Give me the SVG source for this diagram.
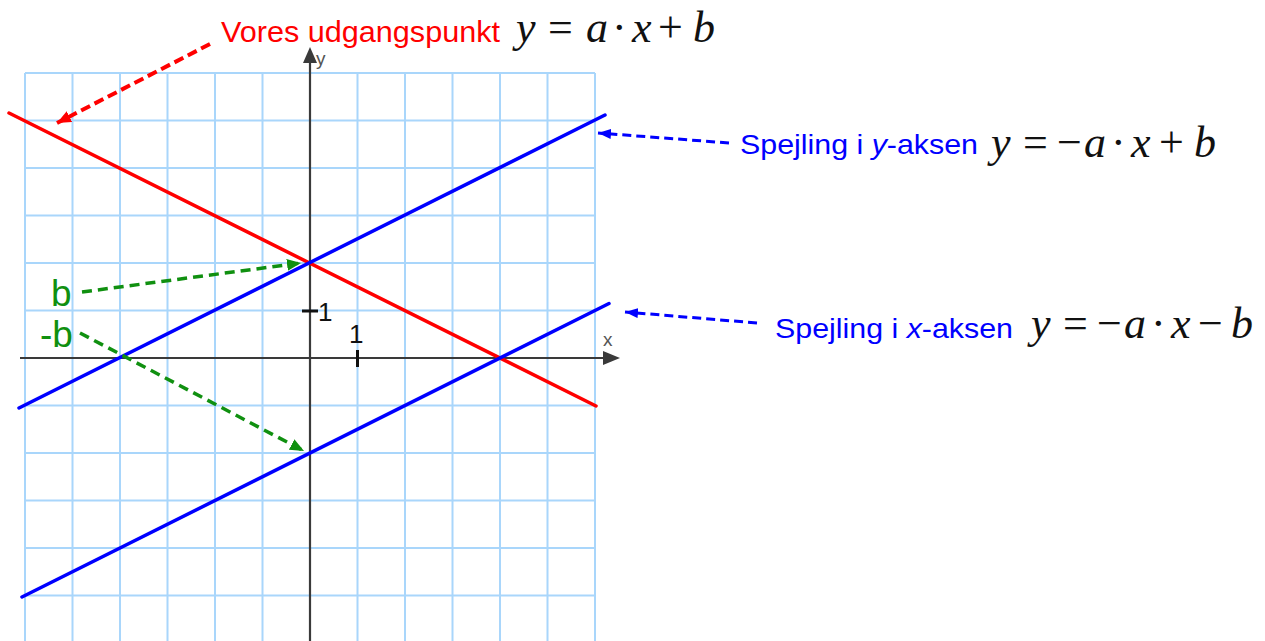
<svg xmlns="http://www.w3.org/2000/svg" width="1265" height="641" viewBox="0 0 1265 641">
<style>
.grid line{stroke:#a9d6fb;stroke-width:2}
.axis{stroke:#3a3a3a;stroke-width:2.2;fill:none}
.tick{stroke:#111;stroke-width:3}
.lab{font-family:"Liberation Sans",Arial,sans-serif}
.math{font-family:"Liberation Serif","Times New Roman",serif;font-size:44px;fill:#111}
.it{font-style:italic}
.red{stroke:#ff0000;stroke-width:3.5;fill:none;stroke-linecap:round}
.blue{stroke:#0000ff;stroke-width:3.5;fill:none;stroke-linecap:round}
.dred{stroke:#ff0000;stroke-width:4;stroke-dasharray:10 5;fill:none}
.dblue{stroke:#0000ff;stroke-width:3;stroke-dasharray:9 5;fill:none}
.dgreen{stroke:#109010;stroke-width:3.5;stroke-dasharray:10 6;fill:none}
</style>
<defs>
<marker id="ahR" markerUnits="userSpaceOnUse" markerWidth="16" markerHeight="12" refX="14" refY="6" orient="auto"><path d="M0,0 L14,6 L0,12 Z" fill="#ff0000"/></marker>
<marker id="ahB" markerUnits="userSpaceOnUse" markerWidth="14" markerHeight="10" refX="13" refY="5" orient="auto"><path d="M0,0 L13,5 L0,10 Z" fill="#0000ff"/></marker>
<marker id="ahG" markerUnits="userSpaceOnUse" markerWidth="16" markerHeight="12" refX="14" refY="6" orient="auto"><path d="M0,0 L14,6 L0,12 Z" fill="#109010"/></marker>
</defs>
<rect width="1265" height="641" fill="#ffffff"/>
<g id="grid" class="grid">
<line x1="25" y1="73" x2="25" y2="641"/>
<line x1="72.5" y1="73" x2="72.5" y2="641"/>
<line x1="120" y1="73" x2="120" y2="641"/>
<line x1="167.5" y1="73" x2="167.5" y2="641"/>
<line x1="215" y1="73" x2="215" y2="641"/>
<line x1="262.5" y1="73" x2="262.5" y2="641"/>
<line x1="357.5" y1="73" x2="357.5" y2="641"/>
<line x1="405" y1="73" x2="405" y2="641"/>
<line x1="452.5" y1="73" x2="452.5" y2="641"/>
<line x1="500" y1="73" x2="500" y2="641"/>
<line x1="547.5" y1="73" x2="547.5" y2="641"/>
<line x1="595" y1="73" x2="595" y2="641"/>
<line x1="25" y1="73" x2="595" y2="73"/>
<line x1="25" y1="120.5" x2="595" y2="120.5"/>
<line x1="25" y1="168" x2="595" y2="168"/>
<line x1="25" y1="215.5" x2="595" y2="215.5"/>
<line x1="25" y1="263" x2="595" y2="263"/>
<line x1="25" y1="310.5" x2="595" y2="310.5"/>
<line x1="25" y1="405.5" x2="595" y2="405.5"/>
<line x1="25" y1="453" x2="595" y2="453"/>
<line x1="25" y1="500.5" x2="595" y2="500.5"/>
<line x1="25" y1="548" x2="595" y2="548"/>
<line x1="25" y1="595.5" x2="595" y2="595.5"/>
</g>
<g id="axes">
<line class="axis" x1="20" y1="358" x2="606" y2="358"/>
<path d="M620,358 L603,351 L603,365 Z" fill="#3a3a3a"/>
<line class="axis" x1="310" y1="641" x2="310" y2="62"/>
<path d="M310,47 L303,63 L317,63 Z" fill="#3a3a3a"/>
<text class="lab" x="316" y="65" font-size="19" fill="#555">y</text>
<text class="lab" x="603" y="346" font-size="19" fill="#555">x</text>
<line class="tick" x1="302" y1="311" x2="318" y2="311"/>
<line class="tick" x1="357.5" y1="350" x2="357.5" y2="367"/>
<text class="lab" x="318" y="321" font-size="26" fill="#111">1</text>
<text class="lab" x="349" y="343" font-size="26" fill="#111">1</text>
</g>
<g id="lines">
<line id="red-line" class="red" x1="9" y1="113" x2="596" y2="406"/>
<line id="blue-line-1" class="blue" x1="19" y1="408" x2="605" y2="115"/>
<line id="blue-line-2" class="blue" x1="22" y1="597" x2="609" y2="303.5"/>
</g>
<g id="connectors">
<line class="dred" x1="210" y1="44" x2="57" y2="123" marker-end="url(#ahR)"/>
<line class="dblue" x1="729" y1="143" x2="598" y2="133" marker-end="url(#ahB)"/>
<line class="dblue" x1="757" y1="323" x2="625" y2="312" marker-end="url(#ahB)"/>
<line class="dgreen" x1="82" y1="292" x2="301" y2="263" marker-end="url(#ahG)"/>
<line class="dgreen" x1="80" y1="333" x2="304" y2="451" marker-end="url(#ahG)"/>
</g>
<g id="label-origin">
<text class="lab" x="221" y="42" font-size="30" fill="#ff0000" textLength="279" lengthAdjust="spacingAndGlyphs">Vores udgangspunkt</text>
<g class="math">
<text x="516" y="42" class="it">y</text>
<text x="548" y="42">=</text>
<text x="586" y="42" class="it">a</text>
<text x="612" y="42">·</text>
<text x="632" y="42" class="it">x</text>
<text x="658" y="42">+</text>
<text x="693" y="42" class="it">b</text>
</g>
</g>
<g id="label-yaxis">
<text class="lab" x="740" y="154" font-size="28" fill="#0000ff" textLength="238" lengthAdjust="spacingAndGlyphs">Spejling i <tspan font-style="italic">y</tspan>-aksen</text>
<g class="math">
<text x="991" y="157" class="it">y</text>
<text x="1023" y="157">=</text>
<text x="1057" y="157">−</text>
<text x="1084" y="157" class="it">a</text>
<text x="1111" y="157">·</text>
<text x="1131" y="157" class="it">x</text>
<text x="1159" y="157">+</text>
<text x="1194" y="157" class="it">b</text>
</g>
</g>
<g id="label-xaxis">
<text class="lab" x="775" y="338" font-size="28" fill="#0000ff" textLength="238" lengthAdjust="spacingAndGlyphs">Spejling i <tspan font-style="italic">x</tspan>-aksen</text>
<g class="math">
<text x="1031" y="338" class="it">y</text>
<text x="1063" y="338">=</text>
<text x="1097" y="338">−</text>
<text x="1124" y="338" class="it">a</text>
<text x="1151" y="338">·</text>
<text x="1171" y="338" class="it">x</text>
<text x="1198" y="338">−</text>
<text x="1231" y="338" class="it">b</text>
</g>
</g>
<g id="label-b">
<text class="lab" x="51" y="306" font-size="37" fill="#109010">b</text>
</g>
<g id="label-minus-b">
<text class="lab" x="40" y="347" font-size="37" fill="#109010">-b</text>
</g>
</svg>
